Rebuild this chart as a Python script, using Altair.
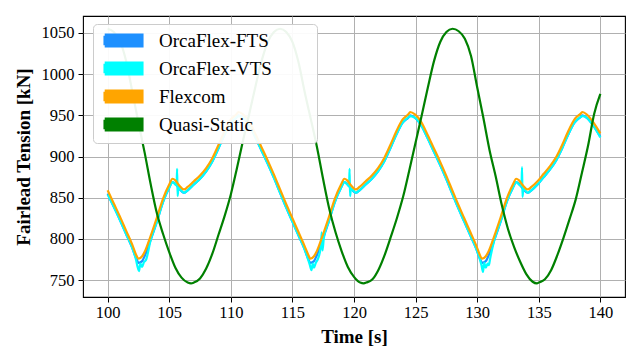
import altair as alt
import pandas as pd

series_names = ["OrcaFlex-FTS", "OrcaFlex-VTS", "Flexcom", "Quasi-Static"]
series_colors = ["#1e90ff", "#00ffff", "#ffa500", "#008000"]

x_ticks = [100, 105, 110, 115, 120, 125, 130, 135, 140]
y_ticks = [750, 800, 850, 900, 950, 1000, 1050]

# Flexcom (orange)
flex_t = [100, 100.5, 101, 101.5, 102, 102.3, 102.52, 102.8, 103, 103.5,
          104, 104.5, 105, 105.27, 105.5, 105.8, 106.2, 106.5, 107, 107.5,
          108, 108.5, 109, 109.5, 110, 110.5, 110.6, 111, 111.5, 112,
          112.5, 113, 113.5, 114, 114.5, 115, 115.5, 116, 116.25, 116.47,
          116.75, 116.95, 117.45, 117.95, 118.45, 118.95, 119.22, 119.45, 119.75, 120.15,
          120.45, 120.95, 121.45, 121.95, 122.45, 122.95, 123.45, 123.95, 124.45, 124.55,
          124.95, 125.45, 125.95, 126.45, 126.95, 127.45, 127.95, 128.45, 128.95, 129.45,
          129.95, 130.2, 130.41, 130.7, 130.9, 131.4, 131.9, 132.4, 132.9, 133.17,
          133.4, 133.7, 134.1, 134.4, 134.9, 135.4, 135.9, 136.4, 136.9, 137.4,
          137.9, 138.4, 138.55, 138.9, 139.4, 140]
flex_v = [859, 843, 827, 810, 793, 781, 776, 779, 784, 804,
          826, 849, 866, 873, 871, 865, 860, 863, 870, 877,
          886, 898, 914, 931, 945, 952, 954, 951, 942, 927,
          911, 895, 878, 860, 842, 825, 808, 791, 782, 776,
          779, 784, 804, 826, 849, 866, 873, 871, 865, 860,
          863, 870, 877, 886, 898, 914, 931, 945, 952, 954,
          951, 942, 927, 911, 895, 878, 860, 842, 825, 808,
          791, 781, 776, 779, 784, 804, 826, 849, 866, 873,
          871, 865, 860, 863, 870, 879, 888, 899, 914, 931,
          945, 952, 954, 951, 942, 928]

# OrcaFlex-FTS (blue)
fts_t = flex_t
fts_v = [855, 839, 823, 806, 789, 777, 771, 773, 779, 799,
         821, 845, 862, 869, 867, 861, 856, 859, 866, 873,
         882, 894, 910, 927, 941, 948, 950, 947, 938, 923,
         907, 891, 874, 856, 838, 821, 804, 787, 777, 771,
         773, 779, 799, 821, 845, 862, 869, 867, 861, 856,
         859, 866, 873, 882, 894, 910, 927, 941, 948, 950,
         947, 938, 923, 907, 891, 874, 856, 838, 821, 804,
         787, 777, 771, 773, 779, 799, 821, 845, 862, 869,
         867, 861, 856, 859, 866, 875, 884, 895, 910, 927,
         941, 948, 950, 947, 938, 924]

# OrcaFlex-VTS (cyan)
vts_t = [100, 100.5, 101, 101.5, 102, 102.3, 102.45, 102.55, 102.65, 102.8,
         102.95, 103.1, 103.5, 104, 104.5, 105, 105.27, 105.5, 105.6, 105.64,
         105.68, 105.75, 106.2, 106.5, 107, 107.5, 108, 108.5, 109, 109.5,
         110, 110.5, 110.6, 111, 111.5, 112, 112.5, 113, 113.5, 114,
         114.5, 115, 115.5, 116, 116.25, 116.4, 116.55, 116.65, 116.75, 116.9,
         117.05, 117.3, 117.38, 117.44, 117.55, 117.95, 118.45, 118.95, 119.22, 119.45,
         119.6, 119.64, 119.68, 119.75, 120.15, 120.45, 120.95, 121.45, 121.95, 122.45,
         122.95, 123.45, 123.95, 124.45, 124.55, 124.95, 125.45, 125.95, 126.45, 126.95,
         127.45, 127.95, 128.45, 128.95, 129.45, 129.95, 130.2, 130.35, 130.47, 130.57,
         130.7, 130.85, 130.95, 131.05, 131.4, 131.9, 132.4, 132.9, 133.17, 133.4,
         133.6, 133.64, 133.68, 133.75, 134.1, 134.4, 134.9, 135.4, 135.9, 136.4,
         136.9, 137.4, 137.9, 138.4, 138.55, 138.9, 139.4, 140]
vts_v = [854, 839, 823, 806, 789, 775, 765, 761, 770, 766,
         772, 774, 799, 821, 845, 862, 869, 866, 865, 885,
         852, 862, 856, 859, 866, 873, 882, 894, 910, 927,
         941, 948, 949, 947, 938, 923, 907, 891, 874, 856,
         838, 821, 804, 787, 776, 769, 762, 770, 765, 771,
         775, 790, 808, 786, 801, 821, 845, 862, 869, 866,
         864, 885, 852, 861, 856, 859, 866, 873, 882, 894,
         910, 927, 941, 948, 949, 947, 938, 923, 907, 891,
         874, 856, 838, 821, 804, 787, 776, 768, 760, 771,
         765, 770, 768, 776, 799, 821, 845, 862, 869, 866,
         864, 887, 851, 861, 856, 859, 866, 875, 884, 895,
         910, 927, 941, 948, 949, 947, 938, 923]

# Quasi-Static (green)
qs_t = [100, 100.5, 101, 101.5, 102, 102.5, 103, 103.5, 104, 104.5,
        105, 105.5, 106, 106.5, 106.77, 107, 107.5, 108, 108.5, 109,
        109.5, 110, 110.5, 111, 111.5, 112, 112.5, 113, 113.5, 114,
        114.5, 115, 115.5, 116, 116.5, 117, 117.5, 118, 118.5, 119,
        119.5, 120, 120.5, 120.8, 121, 121.5, 122, 122.5, 123, 123.5,
        124, 124.5, 125, 125.5, 126, 126.5, 127, 127.5, 128, 128.5,
        129, 129.5, 130, 130.5, 131, 131.5, 132, 132.5, 133, 133.5,
        134, 134.5, 134.85, 135, 135.5, 136, 136.5, 137, 137.5, 138,
        138.5, 139, 139.5, 140]
qs_v = [1055, 1051, 1040, 1016, 979, 941, 905, 866, 831, 806,
        784, 765, 753, 747, 746, 747, 752, 764, 782, 805,
        828, 854, 886, 920, 952, 985, 1016, 1039, 1051, 1055,
        1051, 1039, 1014, 978, 945, 911, 872, 836, 808, 785,
        766, 754, 747, 746, 747, 751, 763, 781, 803, 826,
        852, 884, 917, 950, 984, 1016, 1039, 1051, 1055, 1052,
        1043, 1022, 984, 947, 908, 876, 841, 812, 790, 772,
        757, 748, 746, 747, 751, 762, 780, 801, 824, 848,
        880, 913, 952, 976]


def frame(name, t, v):
    return pd.DataFrame({"t": t, "v": v, "series": name})


FONT = "Liberation Serif, Times New Roman, serif"
x_scale = alt.Scale(domain=[98, 142], nice=False, zero=False)
y_scale = alt.Scale(domain=[729.5, 1070.5], nice=False, zero=False)
color_scale = alt.Scale(domain=series_names, range=series_colors)

# legend swatch: a filled bar drawn as a tight zig-zag stroke
swatch = ("M-1.2,-1.4375H8.2V-0.8625H-1.2V-0.2875H8.2V0.2875H-1.2"
          "V0.8625H8.2V1.4375H-1.2")
pad = "\u00a0" * 8 + "\u2060"
legend = alt.Legend(
    title=None, orient="none", legendX=10, legendY=8,
    symbolType=swatch, symbolSize=64, symbolStrokeWidth=2.5,
    labelFont=FONT, labelFontSize=19, labelColor="black", labelOffset=40,
    labelExpr="datum.label + '" + pad + "'", labelLimit=400,
    padding=7, rowPadding=5,
    fillColor="rgba(255,255,255,0.93)", strokeColor="#cccccc", cornerRadius=4,
)


def line(df, width):
    return alt.Chart(df).mark_line(strokeWidth=width, interpolate="monotone").encode(
        x=alt.X("t:Q", scale=x_scale,
                axis=alt.Axis(values=x_ticks, title="Time [s]", format="d",
                              labelFont=FONT, titleFont=FONT,
                              labelPadding=2, titlePadding=7)),
        y=alt.Y("v:Q", scale=y_scale,
                axis=alt.Axis(values=y_ticks, title="Fairlead Tension [kN]", format="d",
                              labelFont=FONT, titleFont=FONT,
                              labelPadding=4, titlePadding=8)),
        color=alt.Color("series:N", scale=color_scale, legend=legend),
    )


chart = alt.layer(
    line(frame(series_names[0], fts_t, fts_v), 2.2),
    line(frame(series_names[1], vts_t, vts_v), 2.2),
    line(frame(series_names[2], flex_t, flex_v), 2.2),
    line(frame(series_names[3], qs_t, qs_v), 2.2),
).properties(
    width=542, height=281,
    autosize=alt.AutoSizeParams(type="none"),
    padding={"left": 75, "top": 8, "right": 5, "bottom": 52},
).configure_view(
    stroke="black", strokeWidth=1.1,
).configure_axis(
    labelFontSize=16.5, labelColor="black",
    titleFontSize=19, titleFontWeight="bold", titleColor="black",
    tickColor="black", tickSize=5, tickWidth=1,
    gridColor="#b0b0b0", gridWidth=1, domain=False,
)

chart.save("out.html", embed_options={"renderer": "svg", "actions": False})
